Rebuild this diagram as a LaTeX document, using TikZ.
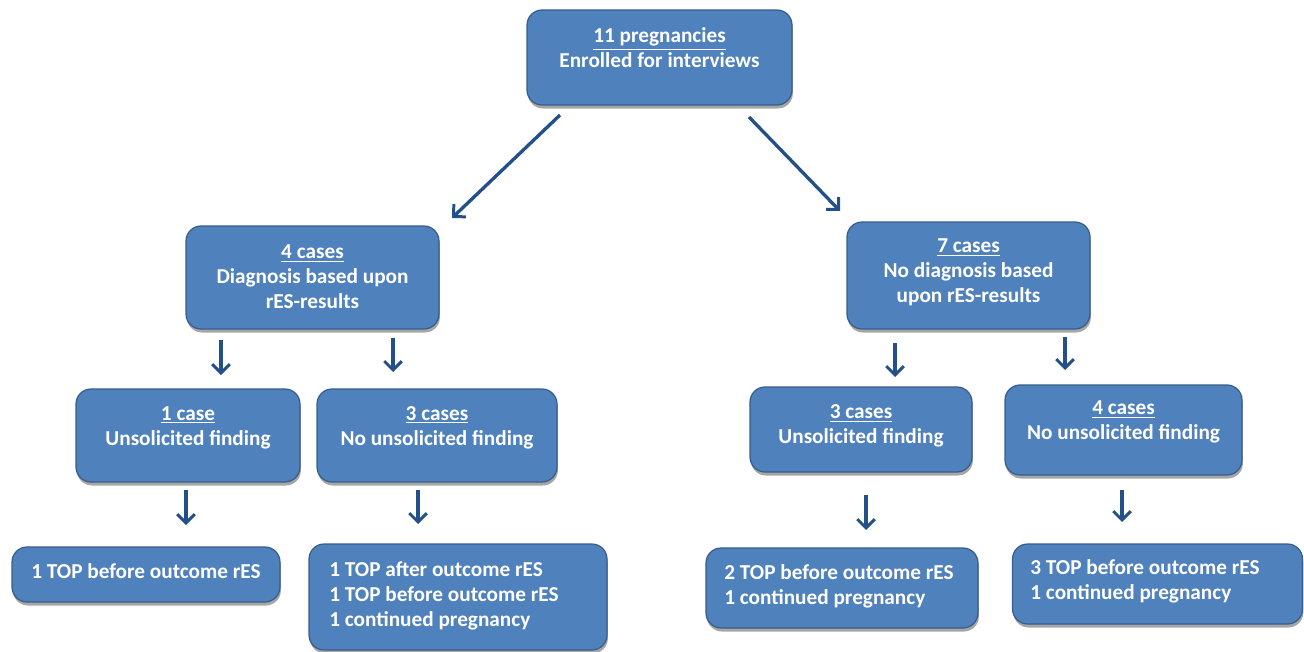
\documentclass[tikz,border=0pt]{standalone}
\usepackage{fontspec}
\setmainfont{Carlito}
\usetikzlibrary{arrows.meta,shadows}
\definecolor{BoxBlue}{HTML}{4F81BD}
\definecolor{BoxEdge}{HTML}{385D8A}
\definecolor{ArrowBlue}{HTML}{24508A}

\begin{document}
\begin{tikzpicture}[x=0.02cm,y=-0.02cm,
  box/.style={draw=BoxEdge,fill=BoxBlue,line width=0.7pt,rounded corners=0.3cm,
    drop shadow={shadow xshift=0.5pt,shadow yshift=-2pt,opacity=0.35,fill=black}},
  txt/.style={text=white,font=\fontsize{12.1}{14.2}\selectfont\bfseries,align=center,inner sep=0pt},
  down/.style={ArrowBlue,line width=1.9pt,-{Straight Barb[length=5pt,width=10pt,line width=1.7pt]}}]
  \useasboundingbox (0,0) rectangle (1304,652);
  % boxes
  \node[box,minimum width=5.30cm,minimum height=1.90cm] (top) at (659.5,57.5) {};
  \node[box,minimum width=5.06cm,minimum height=2.06cm] (diag) at (312.5,277.5) {};
  \node[box,minimum width=4.86cm,minimum height=2.14cm] (nodiag) at (968.5,275.5) {};
  \node[box,minimum width=4.48cm,minimum height=1.86cm] (dunsol) at (188,435.5) {};
  \node[box,minimum width=4.80cm,minimum height=1.86cm] (dnounsol) at (437,435.5) {};
  \node[box,minimum width=4.44cm,minimum height=1.70cm] (nunsol) at (861,429.5) {};
  \node[box,minimum width=4.74cm,minimum height=1.80cm] (nnounsol) at (1123.5,430) {};
  \node[box,minimum width=5.36cm,minimum height=1.10cm] (outa) at (146,574.5) {};
  \node[box,minimum width=5.96cm,minimum height=2.12cm] (outb) at (458,597) {};
  \node[box,minimum width=5.44cm,minimum height=1.60cm] (outc) at (842,588) {};
  \node[box,minimum width=5.80cm,minimum height=1.60cm] (outd) at (1157.5,584) {};
  % texts
  \node[txt] (toptxt) at (659.5,48) {\underline{11 pregnancies}\\Enrolled for interviews};
  \node[txt] (diagtxt) at (312.5,276.5) {\underline{4 cases}\\Diagnosis based upon\\rES-results};
  \node[txt] (nodiagtxt) at (968.5,272.5) {\underline{7 cases}\\No diagnosis based\\upon rES-results};
  \node[txt] (dunsoltxt) at (188,427.5) {\underline{1 case}\\Unsolicited finding};
  \node[txt] (dnounsoltxt) at (437,427.5) {\underline{3 cases}\\No unsolicited finding};
  \node[txt] (nunsoltxt) at (861,426) {\underline{3 cases}\\Unsolicited finding};
  \node[txt] (nnounsoltxt) at (1123.5,422) {\underline{4 cases}\\No unsolicited finding};
  \node[txt,anchor=west,align=left] (outatxt) at (31,571) {1 TOP before outcome rES};
  \node[txt,anchor=west,align=left] (outbtxt) at (329,595.5) {1 TOP after outcome rES\\1 TOP before outcome rES\\1 continued pregnancy};
  \node[txt,anchor=west,align=left] (outctxt) at (724,586) {2 TOP before outcome rES\\1 continued pregnancy};
  \node[txt,anchor=west,align=left] (outdtxt) at (1030,581.5) {3 TOP before outcome rES\\1 continued pregnancy};
  % arrow ends
  \coordinate (a1) at (560,115); \coordinate (b1) at (452,218);
  \coordinate (a2) at (749,117); \coordinate (b2) at (840,211);
  \coordinate (a3) at (221,340); \coordinate (b3) at (221,375);
  \coordinate (a4) at (393,338); \coordinate (b4) at (393,372);
  \coordinate (a5) at (895,343); \coordinate (b5) at (895,377);
  \coordinate (a6) at (1065,337); \coordinate (b6) at (1065,370);
  \coordinate (a7) at (186,490); \coordinate (b7) at (186,525);
  \coordinate (a8) at (418,490); \coordinate (b8) at (418,524);
  \coordinate (a9) at (866,495); \coordinate (b9) at (866,530);
  \coordinate (a10) at (1122,490); \coordinate (b10) at (1122,522);
  \foreach \i in {1,...,10} \draw[down] (a\i) -- (b\i);
\end{tikzpicture}
\end{document}
